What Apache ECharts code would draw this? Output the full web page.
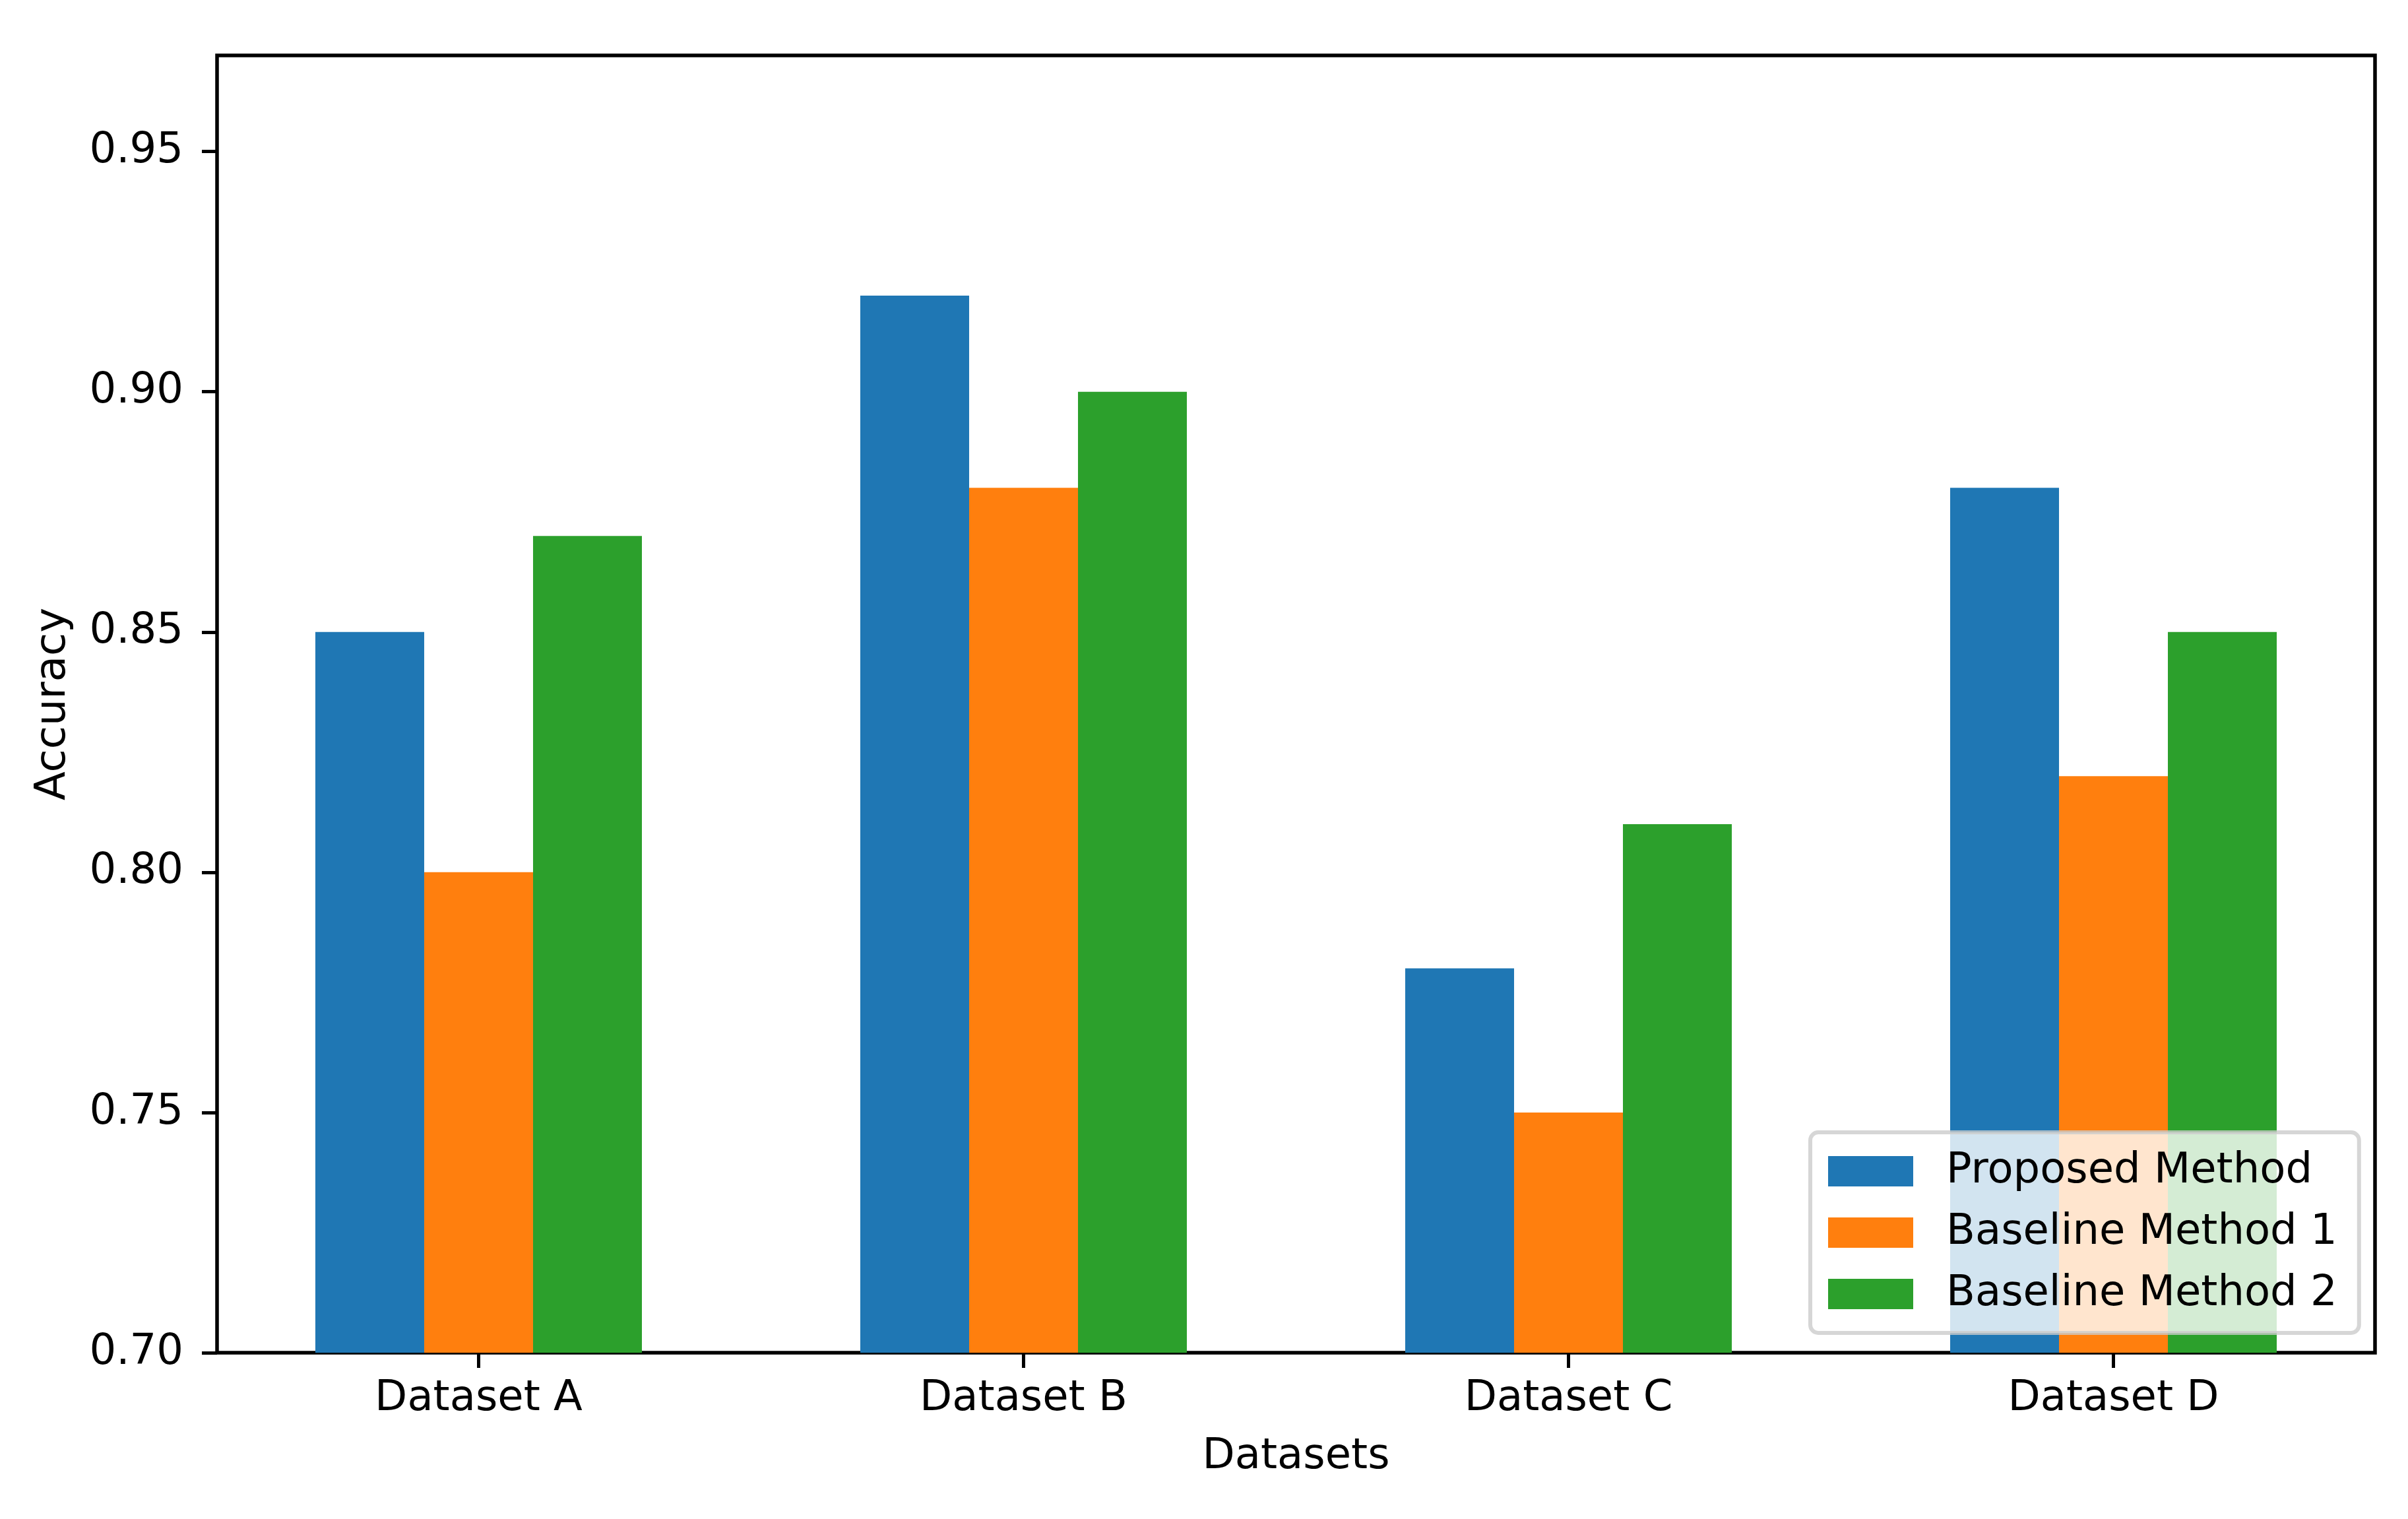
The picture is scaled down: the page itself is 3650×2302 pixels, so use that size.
<!DOCTYPE html>
<html>
<head>
<meta charset="utf-8">
<script src="https://cdn.jsdelivr.net/npm/echarts@6/dist/echarts.min.js"></script>
<style>
  html, body { margin: 0; padding: 0; background: #fff; }
  #chart { width: 3650px; height: 2302px; }
</style>
</head>
<body>
<div id="chart"></div>
<script>
const categories = ['Dataset A', 'Dataset B', 'Dataset C', 'Dataset D'];
const proposed = [0.85, 0.92, 0.78, 0.88];
const baseline1 = [0.80, 0.88, 0.75, 0.82];
const baseline2 = [0.87, 0.90, 0.81, 0.85];
const yTicks = [0.70, 0.75, 0.80, 0.85, 0.90, 0.95];

const FONT = 'DejaVu Sans';
const FS = 64;

const chart = echarts.init(document.getElementById('chart'));

function to_points(values) {
    return values.map((v, i) => [i, v]);
}

function bar_series(name, values, color) {
    return {
        name: name,
        type: 'bar',
        data: to_points(values),
        barWidth: 165,
        barGap: '0%',
        itemStyle: { color: color },
        clip: true
    };
}

const option = {
    backgroundColor: '#ffffff',
    animation: false,
    textStyle: { fontFamily: FONT },
    grid: {
        left: 329, right: 50, top: 84, bottom: 252,
        show: true, borderColor: '#000', borderWidth: 5.5
    },
    legend: {
        left: 2744, top: 1716,
        orient: 'vertical',
        icon: 'rect',
        itemWidth: 129, itemHeight: 46, itemGap: 29,
        padding: [27, 33, 27, 27],
        backgroundColor: 'rgba(255,255,255,0.8)',
        borderColor: 'rgba(204,204,204,0.8)',
        borderWidth: 6, borderRadius: 12,
        textStyle: { fontFamily: FONT, fontSize: FS, color: '#000', padding: [0, 0, 0, 45] }
    },
    xAxis: {
        type: 'value',
        min: -0.48, max: 3.48,
        name: 'Datasets', nameLocation: 'middle', nameGap: 126,
        nameTextStyle: { fontFamily: FONT, fontSize: FS, color: '#000' },
        splitLine: { show: false },
        axisLine: { show: false, onZero: false },
        axisTick: { show: true, customValues: [0, 1, 2, 3], length: 23, lineStyle: { color: '#000', width: 5 } },
        axisLabel: {
            customValues: [0, 1, 2, 3], margin: 38,
            fontFamily: FONT, fontSize: FS, color: '#000',
            formatter: v => categories[Math.round(v)]
        }
    },
    yAxis: {
        type: 'value',
        min: 0.70, max: 0.97,
        name: 'Accuracy', nameLocation: 'middle', nameGap: 216, nameRotate: 90,
        nameTextStyle: { fontFamily: FONT, fontSize: FS, color: '#000' },
        splitLine: { show: false },
        axisLine: { show: false, onZero: false },
        axisTick: { show: true, customValues: yTicks, length: 23, lineStyle: { color: '#000', width: 5 } },
        axisLabel: {
            customValues: yTicks, margin: 51,
            fontFamily: FONT, fontSize: FS, color: '#000',
            formatter: v => v.toFixed(2)
        }
    },
    series: [
        bar_series('Proposed Method', proposed, '#1f77b4'),
        bar_series('Baseline Method 1', baseline1, '#ff7f0e'),
        bar_series('Baseline Method 2', baseline2, '#2ca02c')
    ]
};

chart.setOption(option);
</script>
</body>
</html>
